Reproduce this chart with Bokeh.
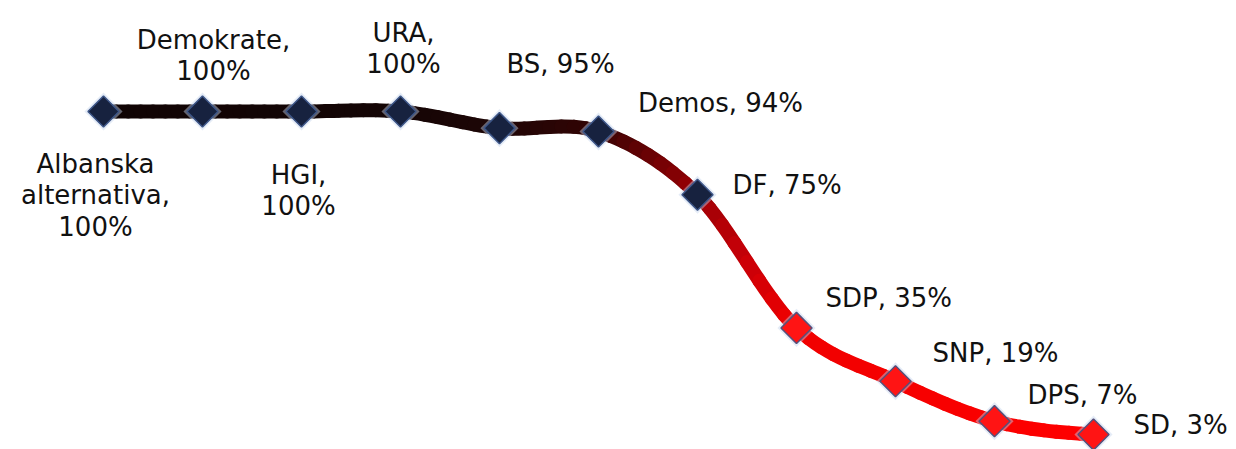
import numpy as np
from bokeh.plotting import figure
from bokeh.models import Range1d
from bokeh.embed import file_html
from bokeh.resources import INLINE
from bokeh.core.properties import value

# ---- data ----
parties = ["Albanska alternativa", "Demokrate", "HGI", "URA", "BS", "Demos",
           "DF", "SDP", "SNP", "DPS", "SD"]
shares = [100, 100, 100, 100, 95, 94, 75, 35, 19, 7, 3]
labels = ["Albanska\nalternativa,\n100%", "Demokrate,\n100%", "HGI,\n100%",
          "URA,\n100%", "BS, 95%", "Demos, 94%", "DF, 75%", "SDP, 35%",
          "SNP, 19%", "DPS, 7%", "SD, 3%"]

# ---- styles / layout ----
n = len(parties)
xs = np.arange(n, dtype=float)
ys = np.array(shares, dtype=float)

label_dx = [-8, 11, -3, 3, 61, 122, 35, 29, 37, 33, 40]
label_dy = [84, -56, 79, -63, -64, -28, -10, -30, -28, -26, -10]
left_aligned = [False] * 6 + [True] * 5

color_stops = [(0, (16, 4, 4)), (3, (20, 5, 5)), (4, (30, 6, 6)), (5, (50, 4, 4)),
               (6, (150, 0, 4)), (6.5, (200, 0, 8)), (7, (240, 0, 0)), (10, (255, 0, 0))]


def grad_color(s):
    for (a, ca), (b, cb) in zip(color_stops[:-1], color_stops[1:]):
        if a <= s <= b:
            t = (s - a) / (b - a)
            c = [int(round(ca[k] + (cb[k] - ca[k]) * t)) for k in range(3)]
            return "#%02x%02x%02x" % tuple(c)
    return "#%02x%02x%02x" % color_stops[-1][1]


W, H = 1236, 449
p = figure(width=W, height=H, output_backend="svg", toolbar_location=None,
           min_border=0, x_range=Range1d(-103 / 99, (W - 103) / 99),
           y_range=Range1d(100 - (H - 111) / 3.33, 100 + 111 / 3.33))
p.axis.visible = False
p.grid.visible = False
p.outline_line_color = None
p.background_fill_color = "white"
p.border_fill_color = "white"

# smooth (Catmull-Rom style) bezier segments, split for a colour gradient
yp = np.concatenate([[ys[0]], ys, [ys[-1]]])
sub = 8
bx0, by0, bx1, by1, bcx0, bcy0, bcx1, bcy1, bcol = ([] for _ in range(9))
for i in range(n - 1):
    P0 = np.array([xs[i], ys[i]])
    P3 = np.array([xs[i + 1], ys[i + 1]])
    C1 = np.array([xs[i] + 1 / 3, ys[i] + (yp[i + 2] - yp[i]) / 6])
    C2 = np.array([xs[i + 1] - 1 / 3, ys[i + 1] - (yp[i + 3] - yp[i + 1]) / 6])

    def B(t):
        return ((1 - t) ** 3) * P0 + 3 * ((1 - t) ** 2) * t * C1 + 3 * (1 - t) * t * t * C2 + t ** 3 * P3

    def dB(t):
        return 3 * ((1 - t) ** 2) * (C1 - P0) + 6 * (1 - t) * t * (C2 - C1) + 3 * t * t * (P3 - C2)

    for k in range(sub):
        t0, t1 = k / sub, (k + 1) / sub
        a, b = B(t0), B(t1)
        ca = a + dB(t0) * (t1 - t0) / 3
        cb = b - dB(t1) * (t1 - t0) / 3
        bx0.append(a[0]); by0.append(a[1]); bx1.append(b[0]); by1.append(b[1])
        bcx0.append(ca[0]); bcy0.append(ca[1]); bcx1.append(cb[0]); bcy1.append(cb[1])
        bcol.append(grad_color(i + (t0 + t1) / 2))

p.bezier(x0=bx0, y0=by0, x1=bx1, y1=by1, cx0=bcx0, cy0=bcy0, cx1=bcx1, cy1=bcy1,
         line_color=bcol, line_width=14, line_cap="round")

# markers
fill = ["#17223f"] * 7 + ["#ff1414"] * 4
edge = ["#3d5688"] * 7 + ["#55507a"] * 4
p.scatter(xs, ys, marker="square", angle=np.pi / 4, size=27,
          fill_color="#c6d4ee", fill_alpha=0.45, line_color=None)
p.scatter(xs, ys, marker="square", angle=np.pi / 4, size=22,
          fill_color=fill, line_color=edge, line_width=1.5)

# labels
font = value("DejaVu Sans")
ci = [i for i in range(n) if not left_aligned[i]]
li = [i for i in range(n) if left_aligned[i]]
p.text(x=[xs[i] for i in ci], y=[ys[i] for i in ci], text=[labels[i] for i in ci],
       x_offset=[label_dx[i] for i in ci], y_offset=[label_dy[i] for i in ci],
       text_align="center", text_baseline="middle", text_font=font,
       text_font_size="26px", text_color="#111111", text_line_height=1.04)
p.text(x=[xs[i] for i in li], y=[ys[i] for i in li], text=[labels[i] for i in li],
       x_offset=[label_dx[i] for i in li], y_offset=[label_dy[i] for i in li],
       text_align="left", text_baseline="middle", text_font=font,
       text_font_size="26px", text_color="#111111")

open("out.html", "w").write(file_html(p, INLINE))
